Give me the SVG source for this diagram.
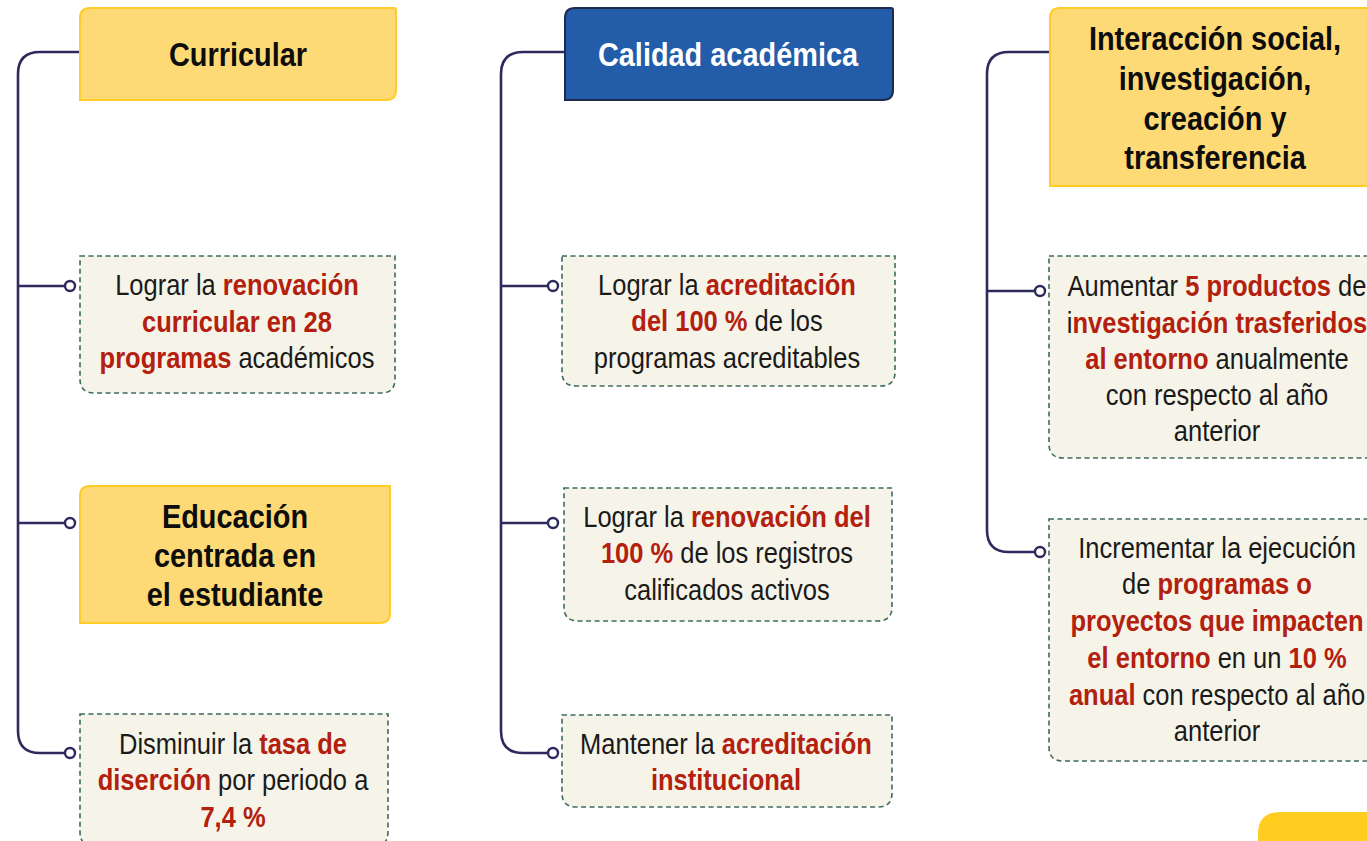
<svg xmlns="http://www.w3.org/2000/svg" width="1367" height="841" viewBox="0 0 1367 841">
<style>
.hdr{fill:#FEDA76;stroke:#FFCC29;stroke-width:2}
.blue{fill:#235CA9;stroke:#1E2B4F;stroke-width:2}
.obj{fill:#F6F4E8;stroke:#3E6B60;stroke-width:1.6;stroke-dasharray:5 3.5}
.con{fill:none;stroke:#2E2A5E;stroke-width:2.6}
.dot{fill:#fff;stroke:#2E2A5E;stroke-width:2.4}
text{font-family:"Liberation Sans",Arial,sans-serif;text-anchor:middle}
.ht{font-size:34px;font-weight:bold;fill:#0d0d0d}
.hw{font-size:34px;font-weight:bold;fill:#fff}
.bt{font-size:30px;fill:#1a1a1a}
.r{fill:#B3200E;font-weight:bold}
</style>
<rect width="1367" height="841" fill="#fff"/>
<g id="connectors">
<path class="con" d="M80,52 H40 Q18,52 18,74 V731 Q18,753 40,753 H65"/>
<path class="con" d="M18,286 H65 M18,523 H65"/>
<circle class="dot" cx="70" cy="286" r="5"/>
<circle class="dot" cx="70" cy="523" r="5"/>
<circle class="dot" cx="70" cy="753" r="5"/>
<path class="con" d="M565,52 H523 Q501,52 501,74 V731 Q501,753 523,753 H548"/>
<path class="con" d="M501,286 H548 M501,523 H548"/>
<circle class="dot" cx="553" cy="286" r="5"/>
<circle class="dot" cx="553" cy="523" r="5"/>
<circle class="dot" cx="553" cy="753" r="5"/>
<path class="con" d="M1050,52 H1009 Q987,52 987,74 V530 Q987,552 1009,552 H1035"/>
<path class="con" d="M987,291 H1035"/>
<circle class="dot" cx="1040" cy="291" r="5"/>
<circle class="dot" cx="1040" cy="552" r="5"/>
</g>
<g id="curricular">
<path class="hdr" d="M90,8 H394 Q396,8 396,10 V90 Q396,100 386,100 H80 V18 Q80,8 90,8 Z"/>
<text class="ht" x="0" y="66" transform="matrix(.85 0 0 1 238 0)">Curricular</text>
</g>
<g id="obj-renovacion-curricular">
<path class="obj" d="M80,256 H395 V379 Q395,393 381,393 H94 Q80,393 80,379 Z"/>
<text class="bt" x="0" y="295" transform="matrix(.85 0 0 1 237 0)">Lograr la <tspan class="r">renovación</tspan></text>
<text class="bt" x="0" y="332" transform="matrix(.85 0 0 1 237 0)"><tspan class="r">curricular en 28</tspan></text>
<text class="bt" x="0" y="368" transform="matrix(.85 0 0 1 237 0)"><tspan class="r">programas</tspan> académicos</text>
</g>
<g id="educacion">
<path class="hdr" d="M90,486 H390 V613 Q390,623 380,623 H80 V496 Q80,486 90,486 Z"/>
<text class="ht" x="0" y="528" transform="matrix(.85 0 0 1 235 0)">Educación</text>
<text class="ht" x="0" y="567" transform="matrix(.85 0 0 1 235 0)">centrada en</text>
<text class="ht" x="0" y="606" transform="matrix(.85 0 0 1 235 0)">el estudiante</text>
</g>
<g id="obj-desercion">
<path class="obj" d="M80,714 H388 V832 Q388,846 374,846 H94 Q80,846 80,832 Z"/>
<text class="bt" x="0" y="754" transform="matrix(.85 0 0 1 233 0)">Disminuir la <tspan class="r">tasa de</tspan></text>
<text class="bt" x="0" y="790" transform="matrix(.85 0 0 1 233 0)"><tspan class="r">diserción</tspan> por periodo a</text>
<text class="bt" x="0" y="827" transform="matrix(.85 0 0 1 233 0)"><tspan class="r">7,4 %</tspan></text>
</g>
<g id="calidad">
<path class="blue" d="M575,8 H891 Q893,8 893,10 V90 Q893,100 883,100 H565 V18 Q565,8 575,8 Z"/>
<text class="hw" x="0" y="66" transform="matrix(.85 0 0 1 728 0)">Calidad académica</text>
</g>
<g id="obj-acreditacion">
<path class="obj" d="M562,256 H895 V372 Q895,386 881,386 H576 Q562,386 562,372 Z"/>
<text class="bt" x="0" y="295" transform="matrix(.85 0 0 1 727 0)">Lograr la <tspan class="r">acreditación</tspan></text>
<text class="bt" x="0" y="331" transform="matrix(.85 0 0 1 727 0)"><tspan class="r">del 100 %</tspan> de los</text>
<text class="bt" x="0" y="368" transform="matrix(.85 0 0 1 727 0)">programas acreditables</text>
</g>
<g id="obj-registros">
<path class="obj" d="M564,488 H892 V607 Q892,621 878,621 H578 Q564,621 564,607 Z"/>
<text class="bt" x="0" y="527" transform="matrix(.85 0 0 1 727 0)">Lograr la <tspan class="r">renovación del</tspan></text>
<text class="bt" x="0" y="563" transform="matrix(.85 0 0 1 727 0)"><tspan class="r">100 %</tspan> de los registros</text>
<text class="bt" x="0" y="600" transform="matrix(.85 0 0 1 727 0)">calificados activos</text>
</g>
<g id="obj-institucional">
<path class="obj" d="M562,715 H892 V793 Q892,807 878,807 H576 Q562,807 562,793 Z"/>
<text class="bt" x="0" y="754" transform="matrix(.85 0 0 1 726 0)">Mantener la <tspan class="r">acreditación</tspan></text>
<text class="bt" x="0" y="790" transform="matrix(.85 0 0 1 726 0)"><tspan class="r">institucional</tspan></text>
</g>
<g id="interaccion">
<path class="hdr" d="M1060,8 H1372 V186 H1050 V18 Q1050,8 1060,8 Z"/>
<text class="ht" x="0" y="50" transform="matrix(.85 0 0 1 1215 0)">Interacción social,</text>
<text class="ht" x="0" y="90" transform="matrix(.85 0 0 1 1215 0)">investigación,</text>
<text class="ht" x="0" y="130" transform="matrix(.85 0 0 1 1215 0)">creación y</text>
<text class="ht" x="0" y="169" transform="matrix(.85 0 0 1 1215 0)">transferencia</text>
</g>
<g id="obj-productos">
<path class="obj" d="M1049,256 H1372 V458 H1063 Q1049,458 1049,444 Z"/>
<text class="bt" x="0" y="296" transform="matrix(.85 0 0 1 1217 0)">Aumentar <tspan class="r">5 productos</tspan> de</text>
<text class="bt" x="0" y="333" transform="matrix(.85 0 0 1 1217 0)">i<tspan class="r">nvestigación trasferidos</tspan></text>
<text class="bt" x="0" y="369" transform="matrix(.85 0 0 1 1217 0)"><tspan class="r">al entorno</tspan> anualmente</text>
<text class="bt" x="0" y="405" transform="matrix(.85 0 0 1 1217 0)">con respecto al año</text>
<text class="bt" x="0" y="441" transform="matrix(.85 0 0 1 1217 0)">anterior</text>
</g>
<g id="obj-proyectos">
<path class="obj" d="M1049,519 H1372 V761 H1063 Q1049,761 1049,747 Z"/>
<text class="bt" x="0" y="558" transform="matrix(.85 0 0 1 1217 0)">Incrementar la ejecución</text>
<text class="bt" x="0" y="594" transform="matrix(.85 0 0 1 1217 0)">de <tspan class="r">programas o</tspan></text>
<text class="bt" x="0" y="631" transform="matrix(.85 0 0 1 1217 0)"><tspan class="r">proyectos que impacten</tspan></text>
<text class="bt" x="0" y="668" transform="matrix(.85 0 0 1 1217 0)"><tspan class="r">el entorno</tspan> en un <tspan class="r">10 %</tspan></text>
<text class="bt" x="0" y="705" transform="matrix(.85 0 0 1 1217 0)"><tspan class="r">anual</tspan> con respecto al año</text>
<text class="bt" x="0" y="741" transform="matrix(.85 0 0 1 1217 0)">anterior</text>
</g>
<g id="corner-tab">
<path d="M1258,841 V834 Q1258,812 1280,812 H1367 V841 Z" fill="#FFCD1F"/>
</g>
</svg>
